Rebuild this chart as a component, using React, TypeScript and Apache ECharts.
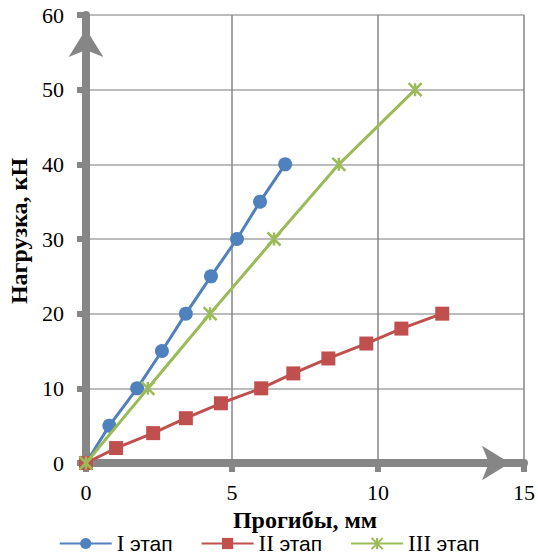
import React, { useEffect, useRef } from "react";
import * as echarts from "echarts";

const seriesNames = ["I этап", "II этап", "III этап"];
const stage1X = [0, 0.8, 1.75, 2.6, 3.42, 4.28, 5.17, 5.96, 6.82];
const stage1Y = [0, 5, 10, 15, 20, 25, 30, 35, 40];
const stage2X = [0, 1.03, 2.3, 3.42, 4.62, 6.0, 7.1, 8.3, 9.6, 10.8, 12.2];
const stage2Y = [0, 2, 4, 6, 8, 10, 12, 14, 16, 18, 20];
const stage3X = [0, 2.12, 4.25, 6.44, 8.66, 11.27];
const stage3Y = [0, 10, 20, 30, 40, 50];
const xTicks = [0, 5, 10, 15];
const yTicks = [0, 10, 20, 30, 40, 50, 60];

const zip = (xs: number[], ys: number[]) => xs.map((x, i) => [x, ys[i]]);

const AXIS = "#868686";
const SERIF = "Liberation Serif";
const SANS = "Liberation Sans";

export default function App() {
  const ref = useRef<HTMLDivElement>(null);
  useEffect(() => {
    const chart = echarts.init(ref.current!, null, { renderer: "svg" });
    const axisCommon = {
      axisLine: {
        show: true,
        lineStyle: { color: AXIS, width: 8 },
        symbol: ["none", "arrow"],
        symbolSize: [26, 28],
        symbolOffset: [0, -14],
      },
      axisTick: { show: true, length: 9, lineStyle: { color: AXIS, width: 6 } },
      axisLabel: { color: "#000", fontFamily: SERIF, fontSize: 22 },
      nameTextStyle: { color: "#000", fontFamily: SERIF, fontSize: 24, fontWeight: "bold" },
    };
    chart.setOption({
      animation: false,
      backgroundColor: "#fff",
      grid: { left: 86, right: 14, top: 15, bottom: 92, containLabel: false, outerBoundsMode: "none" },
      xAxis: {
        type: "value",
        min: xTicks[0],
        max: xTicks[xTicks.length - 1],
        interval: 5,
        name: "Прогибы, мм",
        nameLocation: "middle",
        nameGap: 45,
        ...axisCommon,
        axisLabel: { ...axisCommon.axisLabel, margin: 18 },
        splitLine: { show: true, lineStyle: { color: AXIS, width: 1.5 } },
      },
      yAxis: {
        type: "value",
        min: yTicks[0],
        max: yTicks[yTicks.length - 1],
        interval: 10,
        name: "Нагрузка, кН",
        nameLocation: "middle",
        nameGap: 54,
        nameRotate: 90,
        ...axisCommon,
        nameTextStyle: { ...axisCommon.nameTextStyle, padding: [0, 0, 0, 16] },
        axisLabel: { ...axisCommon.axisLabel, margin: 22 },
        splitLine: { show: true, lineStyle: { color: "#a6a6a6", width: 1.5 } },
      },
      legend: {
        top: 527,
        left: "center",
        itemWidth: 52,
        itemHeight: 14,
        itemGap: 28,
        data: seriesNames,
        formatter: (name: string) => {
          const parts = name.split(" ");
          return `{r|${parts[0]}} {s|${parts[1]}}`;
        },
        textStyle: {
          color: "#000",
          fontFamily: SERIF,
          fontSize: 22,
          rich: {
            r: { fontFamily: SERIF, fontSize: 23, color: "#000" },
            s: { fontFamily: SANS, fontSize: 21, color: "#000" },
          },
        },
      },
      series: [
        {
          name: seriesNames[0],
          type: "line",
          data: zip(stage1X, stage1Y),
          symbol: "circle",
          symbolSize: 14,
          lineStyle: { color: "#4F81BD", width: 3 },
          itemStyle: { color: "#4F81BD" },
          z: 3,
        },
        {
          name: seriesNames[1],
          type: "line",
          data: zip(stage2X, stage2Y),
          symbol: "rect",
          symbolSize: 14,
          lineStyle: { color: "#C0504D", width: 3 },
          itemStyle: { color: "#C0504D" },
          z: 3,
        },
        {
          name: seriesNames[2],
          type: "line",
          data: zip(stage3X, stage3Y),
          symbol: "path://M0,0L10,10M10,0L0,10M5,0L5,10",
          symbolSize: 13,
          lineStyle: { color: "#9BBB59", width: 3 },
          itemStyle: { color: "#9BBB59", borderColor: "#9BBB59", borderWidth: 2.5 },
          z: 4,
        },
      ],
    });
    return () => chart.dispose();
  }, []);
  return <div ref={ref} style={{ width: 538, height: 555, position: "absolute", left: 0, top: 0 }} />;
}
